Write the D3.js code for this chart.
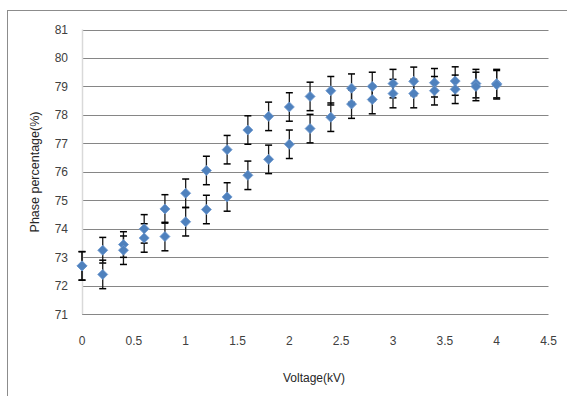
<!DOCTYPE html>
<html>
<head>
<meta charset="utf-8">
<script src="https://cdn.jsdelivr.net/npm/d3@7"></script>
<style>
  body { margin: 0; background: #fff; }
  svg { display: block; font-family: "Liberation Sans", Arial, sans-serif; }
</style>
</head>
<body>
<svg id="chart" width="567" height="396"></svg>
<script>
// --- DATA ---
const voltage = [0, 0.2, 0.4, 0.6, 0.8, 1.0, 1.2, 1.4, 1.6, 1.8, 2.0, 2.2, 2.4, 2.6, 2.8, 3.0, 3.2, 3.4, 3.6, 3.8, 4.0];
const upperSeries = [72.7, 73.25, 73.45, 74.0, 74.7, 75.25, 76.05, 76.78, 77.47, 77.95, 78.28, 78.65, 78.85, 78.94, 79.0, 79.1, 79.18, 79.13, 79.19, 79.1, 79.1];
const lowerSeries = [72.7, 72.4, 73.25, 73.68, 73.73, 74.25, 74.68, 75.12, 75.88, 76.44, 76.97, 77.52, 77.92, 78.38, 78.54, 78.75, 78.75, 78.85, 78.9, 79.0, 79.06];
const upperErr = [0.5, 0.45, 0.45, 0.5, 0.5, 0.5, 0.5, 0.5, 0.5, 0.5, 0.5, 0.5, 0.5, 0.5, 0.5, 0.5, 0.5, 0.5, 0.5, 0.5, 0.5];
const lowerErr = [0.5, 0.5, 0.5, 0.5, 0.5, 0.5, 0.5, 0.5, 0.5, 0.5, 0.5, 0.5, 0.5, 0.5, 0.5, 0.5, 0.5, 0.5, 0.5, 0.5, 0.5];
const xTicks = [0, 0.5, 1, 1.5, 2, 2.5, 3, 3.5, 4, 4.5];
const yTicks = [71, 72, 73, 74, 75, 76, 77, 78, 79, 80, 81];

// --- LAYOUT ---
const svg = d3.select("#chart");
const plot = { left: 82, right: 548.5, top: 29.5, bottom: 314.3 };
const BLUE = "#4f81bd";

const x = d3.scaleLinear().domain([0, 4.5]).range([plot.left, plot.right]);
const y = d3.scaleLinear().domain([71, 81]).range([plot.bottom, plot.top]);

// outer chart border
svg.append("rect")
  .attr("x", 7.5).attr("y", 10.5).attr("width", 580).attr("height", 400)
  .attr("fill", "none").attr("stroke", "#8c8c8c").attr("stroke-width", 1);

// horizontal gridlines
svg.append("g").selectAll("line").data(yTicks).join("line")
  .attr("x1", plot.left).attr("x2", plot.right)
  .attr("y1", d => Math.round(y(d)) + 0.5).attr("y2", d => Math.round(y(d)) + 0.5)
  .attr("stroke", "#868686").attr("stroke-width", 1);

// y axis line (light)
svg.append("line")
  .attr("x1", plot.left + 0.5).attr("x2", plot.left + 0.5)
  .attr("y1", plot.top).attr("y2", plot.bottom)
  .attr("stroke", "#d9d9d9").attr("stroke-width", 1.5);

// y tick labels
svg.append("g").selectAll("text").data(yTicks).join("text")
  .attr("x", 68).attr("y", d => y(d)).attr("dy", "0.35em")
  .attr("text-anchor", "end").attr("font-size", 12).attr("fill", "#404040")
  .text(d => d);

// x tick labels
svg.append("g").selectAll("text").data(xTicks).join("text")
  .attr("x", d => x(d)).attr("y", 341).attr("dy", "0.35em")
  .attr("text-anchor", "middle").attr("font-size", 12).attr("fill", "#404040")
  .text(d => d);

// axis titles
svg.append("text")
  .attr("x", 314).attr("y", 378).attr("dy", "0.35em")
  .attr("text-anchor", "middle").attr("font-size", 12).attr("fill", "#262626")
  .text("Voltage(kV)");

svg.append("text")
  .attr("transform", "translate(35,172) rotate(-90)")
  .attr("dy", "0.35em")
  .attr("text-anchor", "middle").attr("font-size", 12.5).attr("fill", "#262626")
  .text("Phase percentage(%)");

// --- SERIES ---
const series = [
  voltage.map((v, i) => ({ v, val: upperSeries[i], err: upperErr[i] })),
  voltage.map((v, i) => ({ v, val: lowerSeries[i], err: lowerErr[i] }))
];

const bars = svg.append("g");
series.forEach(s => {
  const g = bars.append("g");
  g.selectAll("line.stem").data(s).join("line")
    .attr("class", "stem")
    .attr("x1", d => x(d.v)).attr("x2", d => x(d.v))
    .attr("y1", d => y(d.val + d.err)).attr("y2", d => y(d.val - d.err))
    .attr("stroke", "#1a1a1a").attr("stroke-width", 1.3);
  g.selectAll("line.capTop").data(s).join("line")
    .attr("class", "capTop")
    .attr("x1", d => x(d.v) - 3.5).attr("x2", d => x(d.v) + 3.5)
    .attr("y1", d => y(d.val + d.err)).attr("y2", d => y(d.val + d.err))
    .attr("stroke", "#000").attr("stroke-width", 1.5);
  g.selectAll("line.capBot").data(s).join("line")
    .attr("class", "capBot")
    .attr("x1", d => x(d.v) - 3.5).attr("x2", d => x(d.v) + 3.5)
    .attr("y1", d => y(d.val - d.err)).attr("y2", d => y(d.val - d.err))
    .attr("stroke", "#000").attr("stroke-width", 1.5);
});

const diamond = d3.symbol(d3.symbolSquare, 50);
const marks = svg.append("g");
series.forEach(s => {
  marks.append("g").selectAll("path").data(s).join("path")
    .attr("d", diamond)
    .attr("transform", d => `translate(${x(d.v)},${y(d.val)}) rotate(45)`)
    .attr("fill", BLUE).attr("stroke", "#6f9ad0").attr("stroke-width", 0.8);
});
</script>
</body>
</html>
